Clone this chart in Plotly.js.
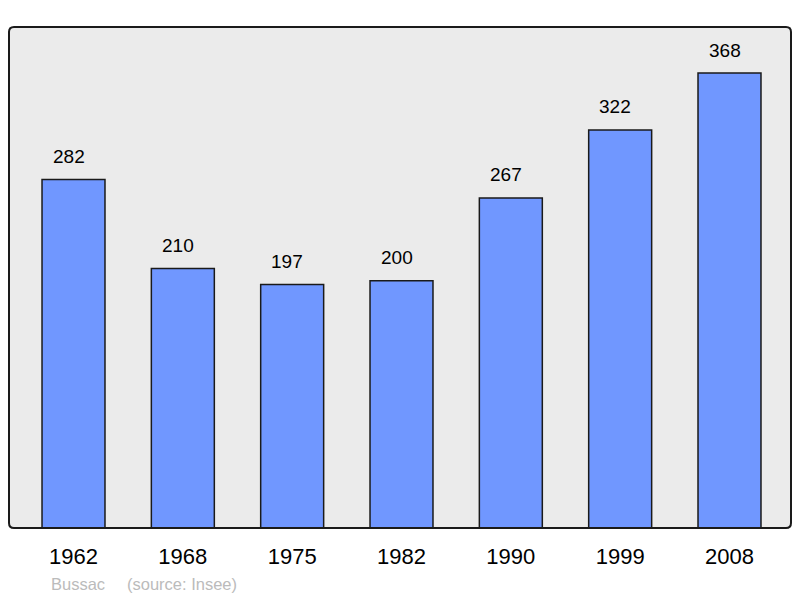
<!DOCTYPE html>
<html>
<head>
<meta charset="utf-8">
<script src="https://cdn.plot.ly/plotly-3.0.1.min.js"></script>
<style>html,body{margin:0;padding:0;background:#fff;}#chart{width:800px;height:598px;}</style>
</head>
<body>
<div id="chart"></div>
<script>
const years = ["1962", "1968", "1975", "1982", "1990", "1999", "2008"];
const population = [282, 210, 197, 200, 267, 322, 368];
const commune = "Bussac";
const source = "(source: Insee)";

const W = 800, H = 598;
const margin = {l: 9, r: 9, t: 27, b: 70};
const pw = W - margin.l - margin.r, ph = H - margin.t - margin.b;
const FONT = 'Liberation Sans, Arial, sans-serif';

const idx = years.map((_, i) => i);

const annotations = population.map((v, i) => ({
  x: i, y: v, xref: 'x', yref: 'y', text: String(v), showarrow: false,
  yanchor: 'middle', yshift: 23, xshift: -5,
  font: {family: FONT, size: 19, color: '#000'}
}));
annotations.push({
  xref: 'paper', yref: 'paper', x: (49 - margin.l) / pw, y: 0, xanchor: 'left', yanchor: 'middle',
  yshift: -56, showarrow: false, text: commune,
  font: {family: FONT, size: 16.5, color: '#bbbbbb'}
});
annotations.push({
  xref: 'paper', yref: 'paper', x: (125 - margin.l) / pw, y: 0, xanchor: 'left', yanchor: 'middle',
  yshift: -56, showarrow: false, text: source,
  font: {family: FONT, size: 16.5, color: '#bbbbbb'}
});

// rounded border
const rx = 5 / pw, ry = 5 / ph;
const path = `M ${rx},0 L ${1 - rx},0 Q 1,0 1,${ry} L 1,${1 - ry} Q 1,1 ${1 - rx},1 L ${rx},1 Q 0,1 0,${1 - ry} L 0,${ry} Q 0,0 ${rx},0 Z`;

const trace = {
  type: 'bar', x: idx, y: population, width: 0.576,
  marker: {color: '#7097ff', line: {color: '#1a1a1a', width: 1.5}},
  hoverinfo: 'skip'
};

const layout = {
  width: W, height: H, margin: margin,
  paper_bgcolor: '#ffffff', plot_bgcolor: '#ebebeb',
  showlegend: false,
  xaxis: {
    range: [-0.59, 6.5625], tickmode: 'array', tickvals: idx, ticktext: years,
    showgrid: false, zeroline: false, showline: false, ticks: '',
    ticklabelstandoff: 13,
    tickfont: {family: FONT, size: 22, color: '#000'}
  },
  yaxis: {range: [0, 405.3], showgrid: false, zeroline: false, showticklabels: false, ticks: '', showline: false},
  shapes: [{type: 'path', xref: 'paper', yref: 'paper', path: path, line: {color: '#1a1a1a', width: 2}, fillcolor: 'rgba(0,0,0,0)', layer: 'above'}],
  annotations: annotations
};

Plotly.newPlot('chart', [trace], layout, {staticPlot: true, displayModeBar: false});
</script>
</body>
</html>
